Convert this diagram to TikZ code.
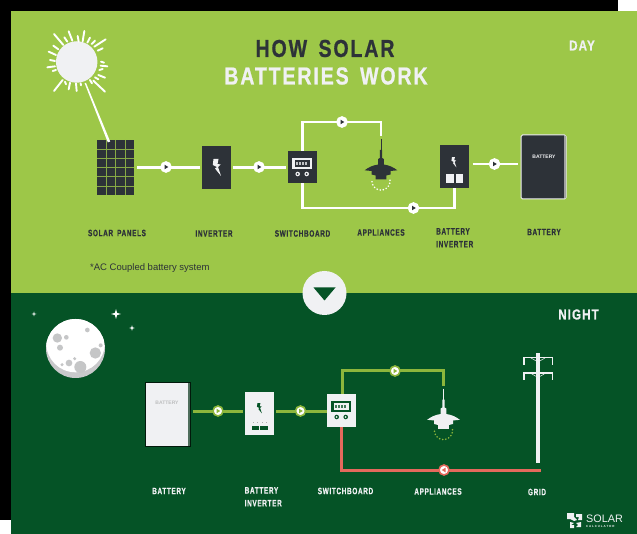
\documentclass[tikz,border=0pt]{standalone}
\usepackage{fontspec}
\setmainfont{Liberation Sans}
\newfontfamily\labfont[FakeStretch=0.70,LetterSpace=7,BoldFeatures={FakeBold=0.5}]{Liberation Sans}
\newfontfamily\headfont[FakeStretch=0.80,LetterSpace=7.5,BoldFeatures={FakeBold=0.8}]{Liberation Sans}
\usetikzlibrary{calc}
\definecolor{leaf}{RGB}{157,199,72}
\definecolor{forest}{RGB}{5,83,38}
\definecolor{slate}{RGB}{45,50,56}
\definecolor{chalk}{RGB}{240,241,243}
\definecolor{wire}{RGB}{141,182,60}
\definecolor{coral}{RGB}{228,105,92}
\tikzset{
  unit/.style={draw=none,inner sep=0pt,minimum width=#1,outer sep=0pt},
  daywire/.style={draw=white,line width=2.8pt},
  nightwire/.style={draw=wire,line width=3pt},
  gridwire/.style={draw=coral,line width=3pt},
  tag/.style={font=\labfont\bfseries\fontsize{9.2}{11}\selectfont,inner sep=0pt,align=left},
  flowdisc/.style={circle,fill=white,inner sep=0pt,minimum size=#1},
}
% flow marker: name, x, y, ring colour, triangle colour, direction (1 right, -1 left)
\newcommand{\flowmark}[6]{%
  \node[flowdisc=10pt,draw=#4,line width=1.6pt] (#1) at (#2,#3) {};
  \fill[#5] ($(#1)+(#6*2.3,0)$) -- ($(#1)+(-#6*1.5,-2.3)$) -- ($(#1)+(-#6*1.5,2.3)$) -- cycle;
}
% hanging lamp centred on x, neck top at y: x, y, body colour, glow colour
\newcommand{\lampicon}[4]{%
  \begin{scope}[shift={(#1,#2)}]
    \draw[#3,line width=0.6pt] (0,-11) -- (0,0);
    \fill[#3] (-1.1,0) -- (1.1,0) -- (1.1,8) -- (2.8,9) -- (2.8,14.5)
      .. controls (8,15.2) and (13,17.5) .. (16.3,20.3)
      -- (9.5,21) -- (9.5,24.5) -- (5.3,25.5) -- (5.3,29.3) -- (-5.3,29.3) -- (-5.3,25.5) -- (-9.5,24.5) -- (-9.5,21)
      -- (-16.3,20.3)
      .. controls (-13,17.5) and (-8,15.2) .. (-2.8,14.5)
      -- (-2.8,9) -- (-1.1,8) -- cycle;
    \foreach \a in {-5,15,...,185}
      \fill[#4] ({9*cos(\a)},{31+9*sin(\a)}) circle[radius=0.9];
  \end{scope}
}
% meter face of a switchboard; its top-left corner sits at x,y
\newcommand{\metericon}[4]{%
  \begin{scope}[shift={(#1,#2)}]
    \fill[#3] (4.3,7) rectangle (24.3,18.3);
    \fill[#4] (6.5,9) rectangle (22,16.3);
    \foreach \c in {8.2,11.2,14.2,17.2}
      \fill[#3!75!#4] (\c,11) rectangle (\c+2.2,14.3);
    \foreach \c in {9.7,18.7}{
      \fill[#3] (\c,23) circle[radius=2.3];
      \fill[#4] (\c,23) circle[radius=1];
    }
  \end{scope}
}
% lightning bolt centred on x,y
\newcommand{\bolticon}[4]{%
  \begin{scope}[shift={(#1,#2)},scale=#3]
    \fill[#4] (-3.5,-8) -- (1.5,-8) -- (0.5,-3) -- (3.5,-2.5) -- (1,0) -- (4,9) -- (-2,1.5) -- (0,0) -- (-4.2,-2) -- cycle;
  \end{scope}
}
% four-pointed star
\newcommand{\staricon}[3]{%
  \fill[white] (#1,#2-#3) -- (#1+#3*0.22,#2-#3*0.22) -- (#1+#3,#2) -- (#1+#3*0.22,#2+#3*0.22)
    -- (#1,#2+#3) -- (#1-#3*0.22,#2+#3*0.22) -- (#1-#3,#2) -- (#1-#3*0.22,#2-#3*0.22) -- cycle;
}
\begin{document}
\begin{tikzpicture}[x=1pt,y=-1pt]
\useasboundingbox (0,0) rectangle (637,534);
% page backdrop and the two panels
\fill[white] (0,0) rectangle (637,534);
\fill[black] (0,0) rectangle (618,11);
\fill[black] (0,0) rectangle (11,520);
\fill[leaf] (11,11) rectangle (637,293);
\fill[forest] (11,293) rectangle (637,534);

% ---- day panel ----
\node[font=\headfont\bfseries\fontsize{24.5}{28}\selectfont,text=slate,inner sep=0pt] (title1) at (325,48.5) {HOW\, SOLAR};
\node[font=\headfont\bfseries\fontsize{24.5}{28}\selectfont,text=chalk,inner sep=0pt] (title2) at (326,76) {BATTERIES\, WORK};
\node[font=\headfont\bfseries\fontsize{14.5}{16}\selectfont,text=chalk,inner sep=0pt] (daylabel) at (582,45.5) {DAY};

% sun with its rays
\node[circle,fill=chalk,inner sep=0pt,minimum size=41.5pt] (sun) at (76.7,62) {};
\foreach \ax/\ay/\bx/\by in {72/42/100/75,116/34/127/62,163/33/158/64,227/58/193/80,70/77/85/88,
                     103/52/112/65,143/48/146/65,180/53/172/68,195/62/185/72,218/85/203/92,
                     56/95/78/105,60/120/75/123,52/142/75/139,68/153/78/150,213/125/222/128,
                     212/137/232/139,208/150/218/147,205/165/225/173,195/172/205/178,
                     190/182/225/215,180/180/186/190,152/190/153/196,138/190/140/213,
                     120/188/116/208,105/185/108/193,98/180/72/213}
  \draw[white,line cap=round,line width=1.9pt] ({30+\ax/3},{20+\ay/3}) -- ({30+\bx/3},{20+\by/3});

% solar array
\node[unit=37pt,minimum height=55pt,fill=slate] (panels) at (115.5,167.5) {};
\foreach \c in {1,2,3}
  \draw[leaf!80!slate,line width=0.5pt] ($(panels.north west)+(\c*9.25,0)$) -- ($(panels.south west)+(\c*9.25,0)$);
\foreach \r in {1,...,5}
  \draw[leaf!80!slate,line width=0.5pt] ($(panels.north west)+(0,\r*9.17)$) -- ($(panels.north east)+(0,\r*9.17)$);
\fill[white] (84.6,83.2) -- (86,82.8) -- (110.2,141.6) -- (107.8,142.4) -- cycle;

\node[unit=28.5pt,minimum height=43pt,fill=slate] (inverter) at (216.3,167.5) {};
\bolticon{217}{167}{1}{chalk}
\node[unit=28.5pt,minimum height=32.5pt,fill=slate] (board) at (302.3,167) {};
\metericon{288}{151}{chalk}{slate}
\lampicon{381}{150}{slate}{white}
\coordinate (lamptop) at (381,136);
\node[unit=28.5pt,minimum height=43pt,fill=slate] (batinv) at (454.3,166.5) {};
\bolticon{454}{162}{0.6}{chalk}
\fill[chalk] (446,174.5) rectangle (453.5,183);
\fill[chalk] (455.5,174.5) rectangle (463,183);

% storage unit
\node[unit=45pt,minimum height=64pt,fill=slate,draw=chalk,line width=1pt,rounded corners=1.5pt] (battery) at (543.5,167) {};
\fill[gray!70!chalk] (564,136) rectangle (566,198);
\node[font=\bfseries\fontsize{5}{5}\selectfont,text=chalk,inner sep=0pt] (batword) at (544,156.5) {BATTERY};

% daytime wiring
\coordinate (upleft) at (302.3,122);
\coordinate (upright) at (381,122);
\coordinate (downleft) at (302.3,208);
\coordinate (downright) at (454.3,208);
\draw[daywire,shorten <=3pt,shorten >=2pt] (panels.east |- inverter.west) -- (inverter.west);
\draw[daywire,shorten <=2pt,shorten >=2pt] (inverter.east) -- (board.west |- inverter.east);
\draw[daywire] (board.north) -- (upleft) -- (upright) -- (lamptop);
\draw[daywire] (board.south) -- (downleft) -- (downright) -- (batinv.south);
\draw[daywire,shorten <=4pt,shorten >=3pt] (batinv.east |- 0,164) -- (battery.west |- 0,164);
\flowmark{d1}{166}{167}{white}{slate}{1}
\flowmark{d2}{259}{167}{white}{slate}{1}
\flowmark{d3}{342}{122}{white}{slate}{1}
\flowmark{d4}{413.5}{208}{white}{slate}{1}
\flowmark{d5}{494.5}{164}{white}{slate}{1}

\node[tag,text=slate] (capa) at (117,233) {SOLAR\, PANELS};
\node[tag,text=slate] (capb) at (214,233.5) {INVERTER};
\node[tag,text=slate] (capc) at (302.5,233.5) {SWITCHBOARD};
\node[tag,text=slate] (capd) at (381,232.5) {APPLIANCES};
\node[tag,text=slate,anchor=north west,font=\labfont\bfseries\fontsize{9.2}{12.8}\selectfont] (cape) at (436,228) {BATTERY\\INVERTER};
\node[tag,text=slate] (capf) at (544,232) {BATTERY};
\node[font=\fontsize{9.5}{10}\selectfont,text=slate,inner sep=0pt,anchor=west] (note) at (90,268) {*AC Coupled battery system};

% ---- night panel ----
\node[circle,fill=chalk,inner sep=0pt,minimum size=44pt] (toggle) at (324.5,293) {};
\fill[forest] (313.5,287.5) -- (335.5,287.5) -- (324.5,300.5) -- cycle;
\node[font=\headfont\bfseries\fontsize{14.5}{16}\selectfont,text=chalk,inner sep=0pt] (nightlabel) at (578.5,314.5) {NIGHT};

% moon and stars
\node[circle,fill=gray!35!chalk,inner sep=0pt,minimum size=59pt] (moon) at (75.5,348.5) {};
\begin{scope}
  \clip (75.5,348.5) circle[radius=29.5];
  \fill[white] (75.5,343) circle[radius=29.3];
\end{scope}
\foreach \cx/\cy/\cr in {172/204/14,199/202/7,180/233/9,262/180/7,286/249/17,302/226/6,241/291/18,207/279/10,224/266/5,186/284/5}
  \fill[gray!38!chalk] ({\cx/3},{270+\cy/3}) circle[radius={\cr/3}];
\staricon{34}{314}{2.5}
\staricon{116}{314}{5}
\staricon{132}{328}{2.8}

% night units
\node[unit=45pt,minimum height=64pt,fill=chalk,draw=black!70!forest,line width=0.5pt] (nbattery) at (167.5,414) {};
\fill[gray!60!forest] (188,382.5) rectangle (190,445.5);
\node[font=\bfseries\fontsize{5}{5}\selectfont,text=gray!45!chalk,inner sep=0pt] (nbatword) at (167,403) {BATTERY};
\node[unit=29pt,minimum height=43pt,fill=chalk] (ninv) at (259.5,413.5) {};
\bolticon{259.5}{408}{0.6}{forest}
\fill[forest] (252,426) rectangle (258.7,430);
\fill[forest] (260.3,426) rectangle (268,430);
\foreach \c in {253,257,261.5,265.5}
  \fill[gray!60!chalk] (\c,421.5) rectangle (\c+1.2,423);
\node[unit=29pt,minimum height=33pt,fill=chalk] (nboard) at (341.5,410.5) {};
\metericon{327}{394}{forest}{chalk}
\lampicon{443.5}{399.5}{chalk}{wire}
\coordinate (nlamptop) at (443.5,386);
\coordinate (nupleft) at (342,371);
\coordinate (nupright) at (443.5,371);
\coordinate (ndownleft) at (341,470);
\coordinate (ndownright) at (541,470);

% utility pole
\node[unit=4pt,minimum height=110pt,fill=chalk] (pole) at (538,408) {};
\foreach \ya in {358,373.5}{
  \fill[chalk] (523,\ya-1) rectangle (553,\ya+0.5);
  \fill[chalk] (523,\ya-1) rectangle (524.5,\ya+7);
  \fill[chalk] (551.5,\ya-1) rectangle (553,\ya+7);
  \draw[chalk,line width=0.5pt] (531,\ya) -- (538,\ya+4) -- (545,\ya);
}

% night wiring
\draw[nightwire,shorten <=3pt,shorten >=2pt] (nbattery.east |- 0,411) -- (ninv.west |- 0,411);
\draw[nightwire,shorten <=2pt,shorten >=0pt] (ninv.east |- 0,411) -- (nboard.west |- 0,411);
\draw[nightwire] (nupleft |- nboard.north) -- (nupleft) -- (nupright) -- (nlamptop);
\draw[gridwire] (ndownleft |- nboard.south) -- (ndownleft) -- (ndownright);
\flowmark{n1}{218}{411}{wire}{wire}{1}
\flowmark{n2}{300.5}{411}{wire}{wire}{1}
\flowmark{n3}{395}{371}{wire}{wire}{1}
\flowmark{n4}{444}{470}{coral}{coral}{-1}

\node[tag,text=chalk] (ncapa) at (169,491) {BATTERY};
\node[tag,text=chalk,anchor=north west,font=\labfont\bfseries\fontsize{9.2}{12.8}\selectfont] (ncapb) at (244.5,487) {BATTERY\\INVERTER};
\node[tag,text=chalk] (ncapc) at (345.5,491) {SWITCHBOARD};
\node[tag,text=chalk] (ncapd) at (438,491.5) {APPLIANCES};
\node[tag,text=chalk] (ncape) at (537,492) {GRID};

% brand mark
\fill[chalk] (567,513) -- (574,513) -- (574,517) -- (577,520) -- (574,521) -- (570,519) -- (567,519) -- cycle;
\fill[chalk] (576,514) -- (582,514) -- (582,520) -- (578,520) -- (579,517) -- (576,517) -- cycle;
\fill[chalk] (570,522) -- (574,523) -- (571,525) -- (574,525) -- (574,528) -- (570,528) -- cycle;
\fill[chalk] (576,523) -- (581,522) -- (581,527) -- (576,527) -- (578,525) -- cycle;
\node[font=\fontsize{10.8}{12}\selectfont,text=chalk,inner sep=0pt,anchor=west] (brand) at (586,519) {SOLAR};
\node[font=\bfseries\fontsize{3}{3}\selectfont,text=chalk,inner sep=0pt,anchor=west] (brandsub) at (586,526.3) {C A L C U L A T O R};
\end{tikzpicture}
\end{document}
